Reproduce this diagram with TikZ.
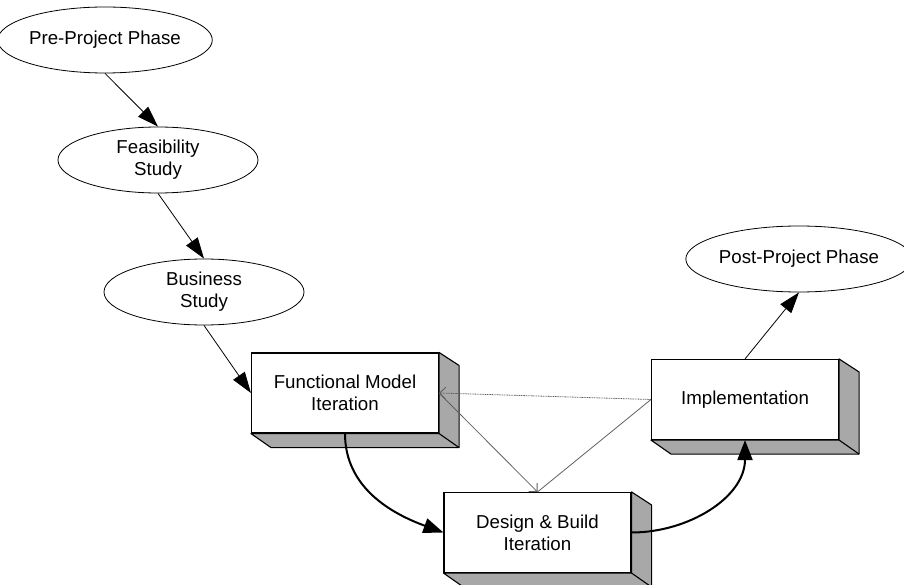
\documentclass[tikz,border=0pt]{standalone}
\usepackage{fontspec}
\setmainfont{Liberation Sans}
\usetikzlibrary{arrows.meta,shapes.geometric,backgrounds}

\definecolor{facegray}{HTML}{A8A8A8}
\definecolor{linkgray}{HTML}{606060}

\tikzset{
  phase/.style={ellipse, draw, line width=0.8pt, minimum width=200pt,
    minimum height=66pt, inner sep=0pt, align=center,
    font=\fontsize{18.7}{22}\selectfont},
  stage/.style={rectangle, draw, line width=1.1pt, fill=white,
    minimum width=187pt, minimum height=80pt, inner sep=0pt, align=center,
    font=\fontsize{18.7}{22}\selectfont},
  side/.style={draw, line width=1.1pt, fill=facegray, line join=round},
  flow/.style={line width=0.8pt, -{Triangle[length=21pt,width=14pt]}},
  loop/.style={line width=2pt, -{Triangle[length=20pt,width=15pt]}},
  feedback/.style={linkgray, line width=0.8pt},
  dots/.style={dash pattern=on 1pt off 0.7pt},
  barb/.style={-{Straight Barb[length=6pt,width=12pt,line width=0.9pt]}}
}

% extruded side and bottom faces behind a stage box
\newcommand{\extrude}[1]{%
  \begin{scope}[on background layer]
    \path[side] (#1.south west) -- ([shift={(20,14)}]#1.south west)
      -- ([shift={(20,14)}]#1.south east) -- ([shift={(20,13)}]#1.north east)
      -- (#1.north east) -- (#1.south east) -- cycle;
    \draw[line width=1.1pt] (#1.south east) -- ([shift={(20,14)}]#1.south east);
  \end{scope}}

\begin{document}
\begin{tikzpicture}[x=1pt, y=-1pt]
  \useasboundingbox (0,0) rectangle (904,585);

  % phases outside the iteration cycle
  \node[phase] (pre)  at (105,40)  {Pre-Project Phase};
  \node[phase] (feas) at (158,160) {Feasibility\\Study};
  \node[phase] (bus)  at (204,292) {Business\\Study};
  \node[phase] (post) at (799,259) {Post-Project Phase};

  % iteration stages
  \node[stage] (func)   at (345,393)   {Functional Model\\Iteration};
  \node[stage] (design) at (537.5,532.5) {Design \& Build\\Iteration};
  \node[stage] (impl)   at (745,399.5) {Implementation};
  \extrude{func}
  \extrude{design}
  \extrude{impl}

  % sequence of phases
  \draw[flow] (pre.south) -- (feas.north);
  \draw[flow] (feas.south) -- (bus.north);
  \draw[flow] (bus.south) -- (func.west);
  \draw[flow] (impl.north) -- (post.south);

  % main iteration cycle
  \draw[loop] (func.south) to[out=-90, in=160] (design.west);
  \draw[loop] (design.east) to[out=0, in=-90] (impl.south);

  % feedback links
  \draw[feedback, dots, barb] (impl.west) -- (func.east);
  \draw[feedback, barb] (func.east) -- (design.north);
  \draw[feedback] (impl.west) -- (design.north);
\end{tikzpicture}
\end{document}
